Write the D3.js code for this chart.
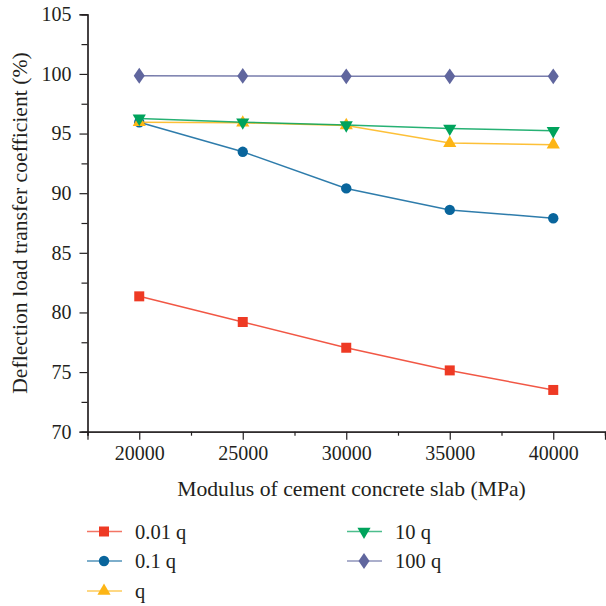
<!DOCTYPE html>
<html><head><meta charset="utf-8">
<script src="https://cdn.jsdelivr.net/npm/d3@7/dist/d3.min.js"></script>
<style>body{margin:0;background:#fff}svg{display:block}</style>
</head><body><svg id="c" width="606" height="606"></svg>
<script>
const xValues = [20000, 25000, 30000, 35000, 40000];
const s001 = [81.35, 79.2, 77.04, 75.14, 73.5];
const s01 = [95.95, 93.47, 90.4, 88.6, 87.9];
const sq = [95.95, 95.9, 95.68, 94.2, 94.07];
const s10 = [96.27, 95.95, 95.71, 95.43, 95.23];
const s100 = [99.85, 99.83, 99.8, 99.8, 99.8];
const seriesNames = ["0.01 q", "0.1 q", "q", "10 q", "100 q"];
const seriesColors = ["#ee3a24", "#09659c", "#fdb515", "#00a35c", "#60669e"];
const seriesSymbols = ["square", "circle", "triangle", "triangledown", "diamond"];
const xTicks = [20000, 25000, 30000, 35000, 40000];
const yTicks = [70, 75, 80, 85, 90, 95, 100, 105];
const xTitle = "Modulus of cement concrete slab (MPa)";
const yTitle = "Deflection load transfer coefficient (%)";

const seriesData = [s001, s01, sq, s10, s100];
const svg = d3.select("#c");
const font = "'Liberation Serif', 'DejaVu Serif', serif";
const ink = "#231f20";
const L = 87.5, R = 605, T = 14.3, B = 431.7;
const x = d3.scaleLinear().domain([17500, 42500]).range([L, R]);
const y = d3.scaleLinear().domain([70, 105]).range([B, T]);

// axes
const xAxis = d3.axisBottom(x).tickValues(xTicks).tickSize(8).tickPadding(6).tickFormat(d3.format("d"));
const xMinor = d3.axisBottom(x).tickValues([17500, 22500, 27500, 32500, 37500, 42500]).tickSize(4).tickFormat("");
const yAxis = d3.axisLeft(y).tickValues(yTicks).tickSize(8).tickPadding(8).tickFormat(d3.format("d"));
const yMinor = d3.axisLeft(y).tickValues([72.5, 77.5, 82.5, 87.5, 92.5, 97.5, 102.5]).tickSize(6).tickFormat("");

function style(g){
  g.select(".domain").attr("stroke", ink).attr("stroke-width", 1.2);
  g.selectAll(".tick line").attr("stroke", ink).attr("stroke-width", 1.2);
  g.selectAll(".tick text").attr("fill", ink).style("font-family", font).style("font-size", "20px");
}
svg.append("g").attr("transform", `translate(0,${B})`).call(xMinor).call(style);
svg.append("g").attr("transform", `translate(0,${B})`).call(xAxis).call(style);
svg.append("g").attr("transform", `translate(${L},0)`).call(yMinor).call(style);
svg.append("g").attr("transform", `translate(${L},0)`).call(yAxis).call(style);

svg.append("text").attr("x", 351.5).attr("y", 496).attr("text-anchor", "middle")
  .attr("fill", ink).style("font-family", font).style("font-size", "21.7px").text(xTitle);
svg.append("text").attr("transform", "translate(26.5,223) rotate(-90)").attr("text-anchor", "middle")
  .attr("fill", ink).style("font-family", font).style("font-size", "21.7px").text(yTitle);

const symMap = {square: d3.symbolSquare, circle: d3.symbolCircle, triangle: d3.symbolTriangle, triangledown: d3.symbolTriangle, diamond: d3.symbolDiamond};
const symSize = {square: 100, circle: 85, triangle: 75, triangledown: 75, diamond: 80};
function marker(g, name, color){
  const p = g.append("path").attr("d", d3.symbol().type(symMap[name]).size(symSize[name])()).attr("fill", color);
  if (name === "triangledown") p.attr("transform", "rotate(180)");
  if (name === "diamond") p.attr("transform", "scale(1.15,0.95)");
  return p;
}

const line = d3.line().x((d, i) => x(xValues[i])).y(d => y(d));
seriesData.forEach((vals, k) => {
  const g = svg.append("g");
  g.append("path").datum(vals).attr("d", line).attr("fill", "none")
    .attr("stroke", seriesColors[k]).attr("stroke-width", 1.5).attr("stroke-opacity", 0.85);
  vals.forEach((v, i) => {
    const m = g.append("g").attr("transform", `translate(${x(xValues[i])},${y(v)})`);
    marker(m, seriesSymbols[k], seriesColors[k]);
  });
});

// legend
const legendPos = [[104, 531.5], [104, 561], [104, 591], [364, 531.5], [364, 561]];
seriesNames.forEach((name, k) => {
  const [cx, cy] = legendPos[k];
  const g = svg.append("g").attr("transform", `translate(${cx},${cy})`);
  g.append("line").attr("x1", -17).attr("x2", 18).attr("y1", 0).attr("y2", 0)
    .attr("stroke", seriesColors[k]).attr("stroke-width", 1.5).attr("stroke-opacity", 0.7);
  marker(g, seriesSymbols[k], seriesColors[k]);
  g.append("text").attr("x", 31).attr("y", 7).attr("fill", ink)
    .style("font-family", font).style("font-size", "20.5px").text(name);
});
</script></body></html>
